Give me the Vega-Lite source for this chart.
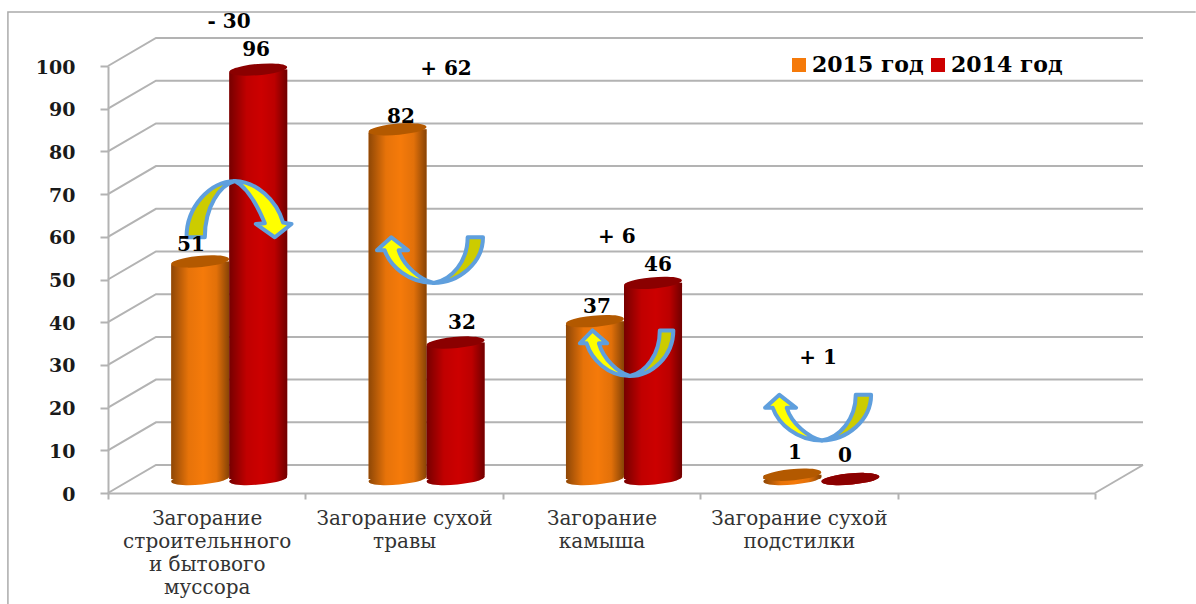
{
  "$schema": "https://vega.github.io/schema/vega-lite/v6.json",
  "width": 1035,
  "height": 455,
  "autosize": {"type": "none"},
  "padding": {"left": 108, "top": 38, "right": 53, "bottom": 111},
  "background": "#FFFFFF",
  "config": {"view": {"stroke": null}},
  "datasets": {
    "fires": [
      {"cause": "Загорание|строительнного|и бытового|муссора", "series": "2015 год", "value": 51, "labelX": 0.42, "labelY": 58.0},
      {"cause": "Загорание|строительнного|и бытового|муссора", "series": "2014 год", "value": 96, "labelX": 0.75, "labelY": 103.8},
      {"cause": "Загорание сухой|травы", "series": "2015 год", "value": 82, "labelX": 1.484, "labelY": 88.0},
      {"cause": "Загорание сухой|травы", "series": "2014 год", "value": 32, "labelX": 1.793, "labelY": 39.7},
      {"cause": "Загорание|камыша", "series": "2015 год", "value": 37, "labelX": 2.477, "labelY": 43.5},
      {"cause": "Загорание|камыша", "series": "2014 год", "value": 46, "labelX": 2.786, "labelY": 53.3},
      {"cause": "Загорание сухой|подстилки", "series": "2015 год", "value": 1, "labelX": 3.48, "labelY": 9.3},
      {"cause": "Загорание сухой|подстилки", "series": "2014 год", "value": 0, "labelX": 3.733, "labelY": 8.6}
    ],
    "gridlines": [
      {"line": "0", "x": 0, "y": 0}, {"line": "0", "x": 0.243, "y": 6.56}, {"line": "0", "x": 5.243, "y": 6.56},
      {"line": "10", "x": 0, "y": 10}, {"line": "10", "x": 0.243, "y": 16.56}, {"line": "10", "x": 5.243, "y": 16.56},
      {"line": "20", "x": 0, "y": 20}, {"line": "20", "x": 0.243, "y": 26.56}, {"line": "20", "x": 5.243, "y": 26.56},
      {"line": "30", "x": 0, "y": 30}, {"line": "30", "x": 0.243, "y": 36.56}, {"line": "30", "x": 5.243, "y": 36.56},
      {"line": "40", "x": 0, "y": 40}, {"line": "40", "x": 0.243, "y": 46.56}, {"line": "40", "x": 5.243, "y": 46.56},
      {"line": "50", "x": 0, "y": 50}, {"line": "50", "x": 0.243, "y": 56.56}, {"line": "50", "x": 5.243, "y": 56.56},
      {"line": "60", "x": 0, "y": 60}, {"line": "60", "x": 0.243, "y": 66.56}, {"line": "60", "x": 5.243, "y": 66.56},
      {"line": "70", "x": 0, "y": 70}, {"line": "70", "x": 0.243, "y": 76.56}, {"line": "70", "x": 5.243, "y": 76.56},
      {"line": "80", "x": 0, "y": 80}, {"line": "80", "x": 0.243, "y": 86.56}, {"line": "80", "x": 5.243, "y": 86.56},
      {"line": "90", "x": 0, "y": 90}, {"line": "90", "x": 0.243, "y": 96.56}, {"line": "90", "x": 5.243, "y": 96.56},
      {"line": "100", "x": 0, "y": 100}, {"line": "100", "x": 0.243, "y": 106.56}, {"line": "100", "x": 5.243, "y": 106.56},
      {"line": "floor", "x": 5, "y": 0}, {"line": "floor", "x": 5.243, "y": 6.56}
    ],
    "border": [
      {"step": 0, "x": -0.507, "y": -26.1},
      {"step": 1, "x": -0.507, "y": 112.66},
      {"step": 2, "x": 5.51, "y": 112.66}
    ],
    "notes": [
      {"label": "- 30", "x": 0.613, "y": 110.3},
      {"label": "+ 62", "x": 1.712, "y": 99.3},
      {"label": "+ 6", "x": 2.578, "y": 59.9},
      {"label": "+ 1", "x": 3.597, "y": 31.5}
    ],
    "arrows": [
      {"part": "over_tail", "x": 0.661, "y": 66.6},
      {"part": "over_head", "x": 0.661, "y": 66.6},
      {"part": "under_tail", "x": 1.631, "y": 54.5},
      {"part": "under_head", "x": 1.631, "y": 54.5},
      {"part": "narrow_tail", "x": 2.627, "y": 32.7},
      {"part": "narrow_head", "x": 2.627, "y": 32.7},
      {"part": "under_tail", "x": 3.597, "y": 17.6},
      {"part": "under_head", "x": 3.597, "y": 17.6}
    ]
  },
  "resolve": {"scale": {"x": "independent", "y": "independent", "fill": "independent"}},
  "layer": [
    {
      "description": "Walls and outer frame of the pseudo-3D plot",
      "encoding": {
        "x": {"field": "x", "type": "quantitative", "axis": null, "scale": {"domain": [0, 5.243], "range": [0, 1035], "nice": false, "zero": false}},
        "y": {
          "field": "y",
          "type": "quantitative",
          "scale": {"domain": [0, 100], "range": [455, 28], "nice": false, "zero": false},
          "axis": {
            "orient": "left",
            "title": null,
            "values": [0, 10, 20, 30, 40, 50, 60, 70, 80, 90, 100],
            "grid": false,
            "domainColor": "#B3B3B3",
            "domainWidth": 2,
            "tickColor": "#B3B3B3",
            "tickWidth": 2,
            "tickSize": 8,
            "labelPadding": 25,
            "labelOffset": 1,
            "labelFont": "DejaVu Serif",
            "labelFontWeight": "bold",
            "labelFontSize": 19,
            "labelColor": "#1A1A1A"
          }
        }
      },
      "layer": [
        {
          "data": {"name": "border"},
          "mark": {"type": "line", "stroke": "#ABABAB", "strokeWidth": 1.5},
          "encoding": {"order": {"field": "step"}}
        },
        {
          "data": {"name": "gridlines"},
          "mark": {"type": "line", "stroke": "#B3B3B3", "strokeWidth": 2},
          "encoding": {"detail": {"field": "line"}}
        }
      ]
    },
    {
      "description": "Category axis along the front edge of the floor",
      "data": {"name": "fires"},
      "mark": {"type": "point", "opacity": 0},
      "encoding": {
        "x": {
          "field": "cause",
          "type": "nominal",
          "sort": null,
          "scale": {
            "domain": ["Загорание|строительнного|и бытового|муссора", "Загорание сухой|травы", "Загорание|камыша", "Загорание сухой|подстилки", " "],
            "range": [0, 987],
            "paddingInner": 0,
            "paddingOuter": 0
          },
          "axis": {
            "orient": "bottom",
            "title": null,
            "tickBand": "extent",
            "domainColor": "#B3B3B3",
            "domainWidth": 2,
            "tickColor": "#B3B3B3",
            "tickWidth": 2,
            "tickSize": 6,
            "labelAngle": 0,
            "labelAlign": "center",
            "labelBaseline": "top",
            "labelPadding": 9,
            "labelLimit": 0,
            "labelOverlap": false,
            "labelFont": "DejaVu Serif",
            "labelFontSize": 20,
            "labelLineHeight": 23,
            "labelColor": "#333333",
            "labelExpr": "split(datum.label, '|')"
          }
        }
      }
    },
    {
      "description": "Cylinders: base ellipse, body with round shading, dark top ellipse",
      "data": {"name": "fires"},
      "encoding": {
        "x": {
          "field": "cause",
          "type": "nominal",
          "sort": null,
          "axis": null,
          "scale": {
            "domain": ["Загорание|строительнного|и бытового|муссора", "Загорание сухой|травы", "Загорание|камыша", "Загорание сухой|подстилки", " "],
            "range": [22.5, 1009.5],
            "paddingInner": 0.412,
            "paddingOuter": 0.206
          }
        },
        "xOffset": {"field": "series", "type": "nominal", "sort": ["2015 год", "2014 год"], "scale": {"domain": ["2015 год", "2014 год"]}},
        "y": {"field": "value", "type": "quantitative", "stack": null, "axis": null, "scale": {"domain": [0, 100], "range": [441, 14.5], "nice": false, "zero": false}},
        "color": {
          "field": "series",
          "type": "nominal",
          "sort": ["2015 год", "2014 год"],
          "scale": {"domain": ["2015 год", "2014 год"], "range": ["#F57A0A", "#CC0000"]},
          "legend": {
            "orient": "none",
            "legendX": 680,
            "legendY": 16,
            "direction": "horizontal",
            "columns": 2,
            "columnPadding": 3,
            "title": null,
            "symbolType": "square",
            "symbolSize": 196,
            "symbolStrokeWidth": 0,
            "labelFont": "DejaVu Serif",
            "labelFontWeight": "bold",
            "labelFontSize": 22,
            "labelColor": "#000000",
            "labelOffset": 2,
            "labelLimit": 0
          }
        }
      },
      "layer": [
        {
          "mark": {"type": "point", "filled": true, "opacity": 1, "size": 3364, "shape": "M-0.996,0.087A1,0.19,-5,1,1,0.996,-0.087A1,0.19,-5,1,1,-0.996,0.087Z"},
          "encoding": {"y": {"datum": 0, "type": "quantitative"}}
        },
        {
          "mark": {
            "type": "point",
            "filled": true,
            "opacity": 1,
            "size": 3364,
            "shape": "M-0.996,0.087A1,0.19,-5,1,1,0.996,-0.087A1,0.19,-5,1,1,-0.996,0.087Z",
            "fill": {
              "gradient": "linear", "x1": 0, "y1": 0, "x2": 1, "y2": 0,
              "stops": [
                {"offset": 0, "color": "rgba(0,0,0,0.42)"},
                {"offset": 0.3, "color": "rgba(0,0,0,0.06)"},
                {"offset": 0.55, "color": "rgba(0,0,0,0)"},
                {"offset": 0.78, "color": "rgba(0,0,0,0.08)"},
                {"offset": 1, "color": "rgba(0,0,0,0.45)"}
              ]
            }
          },
          "encoding": {"y": {"datum": 0, "type": "quantitative"}, "color": {"value": null}}
        },
        {
          "mark": {"type": "bar", "cornerRadiusTopLeft": 4, "cornerRadiusBottomRight": 4}
        },
        {
          "mark": {
            "type": "bar",
            "cornerRadiusTopLeft": 4,
            "cornerRadiusBottomRight": 4,
            "fill": {
              "gradient": "linear", "x1": 0, "y1": 0, "x2": 1, "y2": 0,
              "stops": [
                {"offset": 0, "color": "rgba(0,0,0,0.42)"},
                {"offset": 0.3, "color": "rgba(0,0,0,0.06)"},
                {"offset": 0.55, "color": "rgba(0,0,0,0)"},
                {"offset": 0.78, "color": "rgba(0,0,0,0.08)"},
                {"offset": 1, "color": "rgba(0,0,0,0.45)"}
              ]
            }
          },
          "encoding": {"color": {"value": null}}
        },
        {
          "mark": {"type": "point", "filled": true, "opacity": 1, "size": 3364, "shape": "M-0.996,0.087A1,0.19,-5,1,1,0.996,-0.087A1,0.19,-5,1,1,-0.996,0.087Z"},
          "encoding": {
            "color": {"value": null},
            "fill": {"field": "series", "type": "nominal", "legend": null, "scale": {"domain": ["2015 год", "2014 год"], "range": ["#B35900", "#8B0000"]}}
          }
        }
      ]
    },
    {
      "description": "Change arrows and all bold labels",
      "encoding": {
        "x": {"field": "x", "type": "quantitative", "axis": null, "scale": {"domain": [0, 5.243], "range": [0, 1035], "nice": false, "zero": false}},
        "y": {"field": "y", "type": "quantitative", "axis": null, "scale": {"domain": [0, 100], "range": [455, 28], "nice": false, "zero": false}}
      },
      "layer": [
        {
          "data": {"name": "arrows"},
          "mark": {"type": "point", "filled": true, "opacity": 1, "size": 12100, "stroke": "#5F9FDD", "strokeWidth": 4, "strokeJoin": "round"},
          "encoding": {
            "shape": {
              "field": "part",
              "type": "nominal",
              "legend": null,
              "scale": {
                "domain": ["over_tail", "over_head", "under_tail", "under_head", "narrow_tail", "narrow_head"],
                "range": [
                  "M-0.945,0.521C-0.945,-0.036,-0.521,-0.491,-0.067,-0.503C-0.339,-0.43,-0.612,-0.036,-0.612,0.521Z",
                  "M-0.067,-0.503C0.327,-0.491,0.691,-0.158,0.812,0.255L0.964,0.279L0.661,0.521L0.315,0.279L0.479,0.267C0.327,-0.097,0.145,-0.4,-0.067,-0.503Z",
                  "M0.964,-0.418C0.964,0.048,0.521,0.412,0.067,0.412C0.4,0.352,0.685,0.018,0.685,-0.418Z",
                  "M0.067,0.412C-0.388,0.412,-0.721,0.109,-0.824,-0.182L-0.964,-0.182L-0.703,-0.418L-0.4,-0.182L-0.57,-0.182C-0.479,0.109,-0.176,0.352,0.067,0.412Z",
                  "M0.85,-0.418C0.85,0.048,0.46,0.412,0.059,0.412C0.353,0.352,0.604,0.018,0.604,-0.418Z",
                  "M0.059,0.412C-0.342,0.412,-0.636,0.109,-0.727,-0.182L-0.85,-0.182L-0.62,-0.418L-0.353,-0.182L-0.503,-0.182C-0.422,0.109,-0.155,0.352,0.059,0.412Z"
                ]
              }
            },
            "fill": {
              "field": "part",
              "type": "nominal",
              "legend": null,
              "scale": {
                "domain": ["over_tail", "over_head", "under_tail", "under_head", "narrow_tail", "narrow_head"],
                "range": ["#CCCC00", "#FFFF00", "#CCCC00", "#FFFF00", "#CCCC00", "#FFFF00"]
              }
            }
          }
        },
        {
          "data": {"name": "notes"},
          "mark": {"type": "text", "font": "DejaVu Serif", "fontWeight": "bold", "fontSize": 20, "color": "#000000", "baseline": "middle", "align": "center"},
          "encoding": {"text": {"field": "label", "type": "nominal"}}
        },
        {
          "data": {"name": "fires"},
          "mark": {"type": "text", "font": "DejaVu Serif", "fontWeight": "bold", "fontSize": 20, "color": "#000000", "baseline": "middle", "align": "center"},
          "encoding": {
            "x": {"field": "labelX", "type": "quantitative"},
            "y": {"field": "labelY", "type": "quantitative"},
            "text": {"field": "value", "type": "quantitative"}
          }
        }
      ]
    }
  ]
}
